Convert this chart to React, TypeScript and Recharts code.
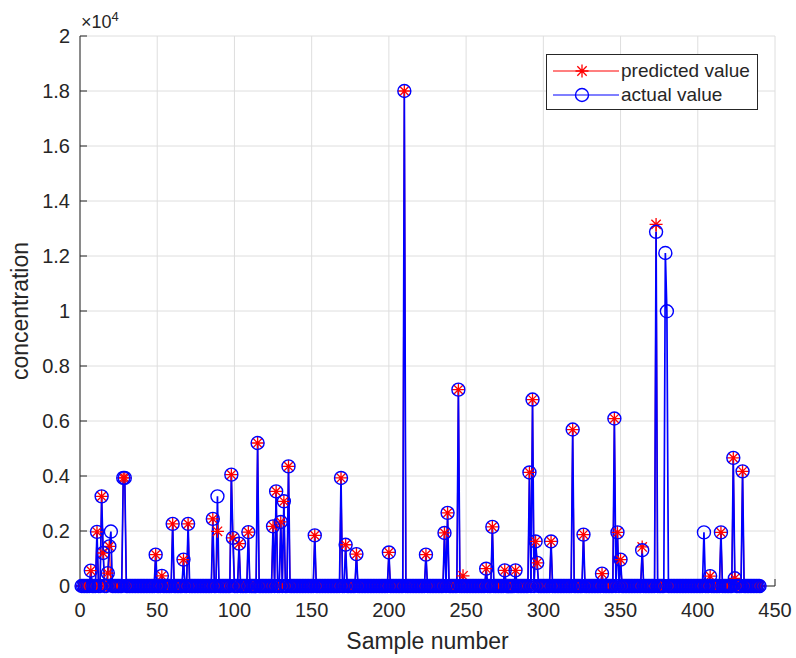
import React from 'react';
import { LineChart, Line, XAxis, YAxis, CartesianGrid, Legend } from 'recharts';

const FONT = '"Liberation Sans", Arial, Helvetica, sans-serif';
const TEXT = '#262626';

const sampleCount = 440;

// sample numbers that rise above the baseline
const spikeSamples = [
  7, 11, 14, 15, 18, 19, 20, 28, 29, 49,
  53, 60, 67, 70, 86, 89, 98, 99, 103, 109,
  115, 125, 127, 130, 132, 135, 152, 169, 172, 179,
  200, 210, 224, 236, 238, 245, 248, 263, 267, 275,
  282, 291, 293, 295, 296, 305, 319, 326, 338, 346,
  348, 350, 364, 373, 379, 380, 404, 408, 415, 423,
  424, 429,
];

const actualSpikes = [
  560, 1970, 3260, 1200, 470, 1440, 1980, 3930, 3930, 1140,
  370, 2260, 960, 2260, 2440, 3260, 4050, 1750, 1540, 1960,
  5200, 2170, 3440, 2330, 3080, 4350, 1840, 3930, 1500, 1160,
  1220, 18000, 1140, 1930, 2660, 7140, 0, 630, 2150, 570,
  570, 4130, 6780, 1620, 840, 1620, 5690, 1870, 450, 6090,
  1950, 960, 1300, 12880, 12110, 9990, 1950, 360, 1950, 4660,
  280, 4170,
];

const predictedSpikes = [
  560, 1970, 3260, 1200, 470, 1440, 0, 3930, 3930, 1140,
  370, 2260, 960, 2260, 2440, 1990, 4050, 1750, 1540, 1960,
  5200, 2170, 3440, 2330, 3080, 4350, 1840, 3930, 1500, 1160,
  1220, 18000, 1140, 1930, 2660, 7140, 370, 630, 2150, 570,
  570, 4130, 6780, 1620, 840, 1620, 5690, 1870, 450, 6090,
  1950, 960, 1420, 13150, 0, 0, 0, 360, 1950, 4660,
  280, 4170,
];

const baselineValue = 0;

const xTicks = [0, 50, 100, 150, 200, 250, 300, 350, 400, 450];
const yTicks = [0, 2000, 4000, 6000, 8000, 10000, 12000, 14000, 16000, 18000, 20000];

const data = Array.from({ length: sampleCount }, (_, i) => {
  const n = i + 1;
  const k = spikeSamples.indexOf(n);
  return {
    sample: n,
    predicted: k >= 0 ? predictedSpikes[k] : baselineValue,
    actual: k >= 0 ? actualSpikes[k] : baselineValue,
  };
});

const RED = '#ff0000';
const BLUE = '#0000ff';
const MR = 6.5;

const starPath = (cx: number, cy: number, r: number) => {
  const d = r * 0.72;
  return `M${cx - r},${cy}H${cx + r}M${cx},${cy - r}V${cy + r}M${cx - d},${cy - d}L${cx + d},${cy + d}M${cx - d},${cy + d}L${cx + d},${cy - d}`;
};

const StarDot = (props: any) => {
  const { cx, cy, index } = props;
  if (cx == null || cy == null) return <g key={`s${index}`} />;
  return <path key={`s${index}`} d={starPath(cx, cy, MR)} stroke={RED} strokeWidth={1.3} fill="none" />;
};

const CircleDot = (props: any) => {
  const { cx, cy, index } = props;
  if (cx == null || cy == null) return <g key={`c${index}`} />;
  return <circle key={`c${index}`} cx={cx} cy={cy} r={MR} stroke={BLUE} strokeWidth={1.4} fill="none" />;
};

const LegendBox = () => (
  <div
    style={{
      width: 212,
      height: 56,
      border: `1px solid ${TEXT}`,
      background: '#fff',
      boxSizing: 'border-box',
      fontFamily: FONT,
      fontSize: 19,
      color: TEXT,
      paddingTop: 4,
    }}
  >
    {[
      { label: 'predicted value', color: RED, star: true },
      { label: 'actual value', color: BLUE, star: false },
    ].map((it) => (
      <div key={it.label} style={{ display: 'flex', alignItems: 'center', height: 24 }}>
        <svg width={74} height={24} style={{ display: 'block' }}>
          <line x1={6} x2={72} y1={12} y2={12} stroke={it.color} strokeWidth={1.2} />
          {it.star ? (
            <path d={starPath(35, 12, MR)} stroke={it.color} strokeWidth={1.3} fill="none" />
          ) : (
            <circle cx={35} cy={12} r={MR} stroke={it.color} strokeWidth={1.4} fill="none" />
          )}
        </svg>
        <span style={{ lineHeight: '24px', whiteSpace: 'nowrap' }}>{it.label}</span>
      </div>
    ))}
  </div>
);

const XLabel = (props: any) => {
  const vb = props.viewBox || { x: 80, y: 586, width: 695, height: 72 };
  return (
    <text x={vb.x + vb.width / 2} y={vb.y + 63} textAnchor="middle" fontSize={23} fontFamily={FONT} fill={TEXT}>
      Sample number
    </text>
  );
};

const YLabel = (props: any) => {
  const vb = props.viewBox || { x: 0, y: 36, width: 80, height: 550 };
  const x = vb.x + 28;
  const y = vb.y + vb.height / 2;
  return (
    <text x={x} y={y} transform={`rotate(-90, ${x}, ${y})`} textAnchor="middle" fontSize={23} fontFamily={FONT} fill={TEXT}>
      concentration
    </text>
  );
};

const tickStyle = { fill: TEXT, fontSize: 20, fontFamily: FONT };
const fmtY = (v: number) => String(+(v / 10000).toFixed(1));

export default function App() {
  return (
    <div style={{ position: 'relative', width: 796, height: 658, background: '#fff' }}>
      <style>{`html,body{margin:0;padding:0;overflow:hidden;background:#fff}`}</style>
      <LineChart
        width={796}
        height={658}
        data={data}
        margin={{ top: 36, right: 21, left: 0, bottom: 0 }}
      >
        <CartesianGrid stroke="#dedede" strokeWidth={1} />
        <XAxis
          dataKey="sample"
          type="number"
          domain={[0, 450]}
          ticks={xTicks}
          interval={0}
          height={72}
          tick={tickStyle}
          tickSize={-7}
          tickMargin={24}
          axisLine={{ stroke: TEXT }}
          tickLine={{ stroke: TEXT }}
          label={{ content: XLabel }}
        />
        <XAxis
          xAxisId="top"
          orientation="top"
          dataKey="sample"
          type="number"
          domain={[0, 450]}
          ticks={xTicks}
          interval={0}
          height={0}
          tick={false}
          tickSize={-7}
          axisLine={{ stroke: TEXT }}
          tickLine={{ stroke: TEXT }}
        />
        <YAxis
          type="number"
          domain={[0, 20000]}
          ticks={yTicks}
          interval={0}
          width={80}
          tick={tickStyle}
          tickFormatter={fmtY}
          tickSize={-7}
          tickMargin={17}
          axisLine={{ stroke: TEXT }}
          tickLine={{ stroke: TEXT }}
          label={{ content: YLabel }}
        />
        <YAxis
          yAxisId="right"
          orientation="right"
          type="number"
          domain={[0, 20000]}
          ticks={yTicks}
          interval={0}
          width={0}
          tick={false}
          tickSize={-7}
          axisLine={{ stroke: TEXT }}
          tickLine={{ stroke: TEXT }}
        />
        <Legend
          layout="horizontal"
          verticalAlign="middle"
          align="center"
          content={LegendBox}
          wrapperStyle={{ position: 'absolute', left: 546, top: 54, width: 212, height: 56 }}
        />
        <Line
          type="linear"
          dataKey="predicted"
          name="predicted value"
          stroke={RED}
          strokeWidth={1.2}
          dot={StarDot}
          activeDot={false}
          isAnimationActive={false}
        />
        <Line
          type="linear"
          dataKey="actual"
          name="actual value"
          stroke={BLUE}
          strokeWidth={1.7}
          dot={CircleDot}
          activeDot={false}
          isAnimationActive={false}
        />
      </LineChart>
      <div
        style={{
          position: 'absolute',
          left: 81,
          top: 11,
          fontFamily: FONT,
          fontSize: 18,
          color: TEXT,
          lineHeight: '22px',
          whiteSpace: 'nowrap',
        }}
      >
        ×10<sup style={{ fontSize: 13, verticalAlign: 'top', position: 'relative', top: -5 }}>4</sup>
      </div>
    </div>
  );
}
